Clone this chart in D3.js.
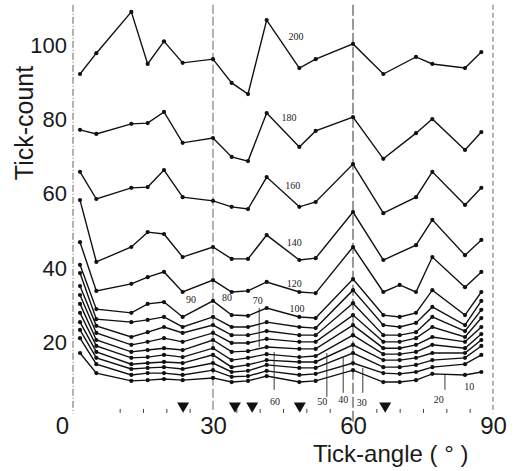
<!DOCTYPE html>
<html>
<head>
<meta charset="utf-8">
<script src="https://cdn.jsdelivr.net/npm/d3@7"></script>
<style>
  body { margin: 0; background: #fff; }
  text { font-family: "Liberation Sans", Arial, sans-serif; fill: #1a1a1a; }
  .lbl { font-family: "Liberation Serif", serif; font-size: 10px; fill: #222; }
</style>
</head>
<body>
<script>
// tick angles (degrees) where counts were taken
var angles = [1.5, 5, 12.5, 16, 19.5, 23.5, 30, 34, 37.5, 41.5, 48.5, 52, 60, 66.5, 70, 73.5, 77, 84, 87.5];

// one series per curve, value = tick count (null = no point)
var c200 = [92.2, 97.8, 108.9, 94.9, 101, 95.2, 96.2, 89.8, 86.8, 106.7, 93.8, 96.2, 100.3, 92.2, null, 96.8, 94.9, 93.8, 98.1];
var c180 = [77.2, 76.1, 78.8, 79.0, 82.0, 73.7, 75.0, 69.9, 68.8, 81.7, 72.6, 76.9, 80.6, 69.4, null, 76.3, 80.1, 71.8, 76.6];
var c160 = [65.9, 58.6, 61.6, 61.8, 66.4, 59.1, 58.1, 56.5, 55.9, 64.5, 56.5, 57.8, 68.0, 54.8, null, 59.1, 65.9, 57.0, 61.6];
var c140 = [58.3, 41.7, 45.7, 49.7, 49.2, 43.0, 45.7, 42.5, 42.5, 48.9, 42.2, 42.7, 55.1, 42.2, null, 46.2, 53.0, 43.5, 47.6];
var c120 = [47.0, 33.9, 35.8, 37.6, 39.0, 33.6, 36.8, 33.6, 33.9, 36.3, 33.6, 33.3, 45.7, 33.6, 35.5, 33.6, 43.0, 34.9, 39.0];
var c100 = [40.9, 29.0, 28.0, 30.4, 30.9, 26.9, 31.2, 27.4, 27.2, 29.3, 26.9, 26.6, 37.1, 27.4, 26.9, 28.0, 34.1, 27.4, 33.6];
var c90  = [38.7, 26.3, 25.5, 26.1, 26.9, 24.2, 26.9, 24.2, 24.2, 25.5, 24.2, 23.9, 34.1, 24.7, 24.2, 25.3, 29.6, 24.7, 31.2];
var c80  = [35.2, 24.5, 21.5, 22.8, 24.2, 22.6, 24.7, 22.0, 22.0, 23.1, 22.0, 22.0, 30.6, 22.0, 22.0, 22.8, 26.9, 23.1, 28.8];
var c70  = [32.8, 22.6, 19.4, 20.2, 21.2, 20.2, 22.6, 19.9, 19.9, 21.0, 20.2, 20.2, 27.4, 20.2, 20.2, 21.2, 24.2, 21.5, 26.6];
var c60  = [30.4, 20.7, 17.5, 18.0, 18.5, 18.0, 20.7, 17.5, 17.7, 18.8, 18.3, 18.3, 24.7, 18.5, 18.5, 19.4, 21.5, 20.2, 24.2];
var c50  = [28.0, 19.1, 15.9, 16.1, 16.7, 16.1, 18.5, 15.3, 15.9, 16.9, 16.1, 16.4, 22.0, 16.9, 16.9, 17.5, 19.4, 18.5, 22.3];
var c40  = [25.5, 17.5, 14.2, 14.5, 14.8, 14.5, 16.7, 13.4, 14.0, 15.3, 14.8, 14.8, 19.4, 15.3, 15.3, 15.9, 17.2, 17.2, 20.7];
var c30  = [23.4, 15.9, 12.9, 13.2, 13.4, 12.9, 14.5, 12.1, 12.4, 14.0, 13.2, 13.2, 17.2, 13.4, 13.4, 14.0, 15.3, 15.9, 19.1];
var c20  = [21.2, 14.2, 11.3, 11.8, 11.8, 11.3, 12.6, 10.8, 11.0, 12.4, 11.3, 11.6, 14.5, 11.8, 11.6, 12.1, 13.4, 14.2, 16.7];
var c10  = [17.2, 11.8, 9.7, 9.9, 10.2, 9.9, 10.5, 9.4, 9.7, 11.0, 9.4, 9.7, 12.6, 9.4, 9.4, 9.9, 11.6, 11.3, 12.1];

var seriesList = [c200, c180, c160, c140, c120, c100, c90, c80, c70, c60, c50, c40, c30, c20, c10];
var curveNames = ["200", "180", "160", "140", "120", "100", "90", "80", "70", "60", "50", "40", "30", "20", "10"];

// where each curve's name is written (angle, count)
var labelAngle = [47.8, 46.3, 47.1, 47.4, 47.4, 48.0, 25.3, 33.0, 39.6, 43.3, 53.4, 57.9, 61.9, 78.4, 84.9];
var labelCount = [102.2, 80.4, 62.1, 46.8, 36.0, 29.3, 31.5, 32.0, 31.2, 4.3, 4.3, 4.6, 4.0, 4.8, 8.1];

// leader lines from a few names up to their curve: [angle, from, to]
var leaders = [[39.9, 29.3, 18.8], [43.1, 17.5, 7.3], [54.4, 17.2, 5.4], [57.9, 16.1, 6.5], [62.1, 13.2, 6.5], [79.7, 11.3, 7.3]];

// marked angles (filled triangles) and small ticks on the angle axis
var markedAngles = [23.6, 34.7, 38.4, 48.6, 66.9];
var minorTicks = [10, 15, 20, 25, 35, 40, 45, 50, 55, 65, 70, 75, 80, 85];
var xTicks = [0, 30, 60, 90];
var yTicks = [20, 40, 60, 80, 100];

var width = 514, height = 471;

var svg = d3.select("body").append("svg")
  .attr("width", width)
  .attr("height", height);

var x = d3.scaleLinear().domain([0, 90]).range([73, 493]);
var y = d3.scaleLinear().domain([0, 100]).range([417, 45]);

// vertical dashed guide lines at 0, 30, 60, 90
var dashes = {0: "7,2,1,2", 30: "9,3", 60: "11,3", 90: "5,3"};
svg.selectAll(".vline")
  .data(xTicks)
  .enter()
  .append("line")
  .attr("class", "vline")
  .attr("x1", function(d) { return x(d); })
  .attr("x2", function(d) { return x(d); })
  .attr("y1", y(110.8))
  .attr("y2", function(d) { return d == 60 ? y(-2) : y(1); })
  .attr("stroke", function(d) { return d == 60 ? "#333" : "#666"; })
  .attr("stroke-width", 1)
  .attr("stroke-dasharray", function(d) { return dashes[d]; });

// y axis labels
var yAxis = svg.append("g")
  .attr("transform", "translate(" + x(0) + ",0)")
  .call(d3.axisLeft(y).tickValues(yTicks).tickSize(0).tickPadding(6));
yAxis.select(".domain").remove();
yAxis.selectAll("text")
  .style("font-size", "22px")
  .style("font-family", "Liberation Sans, Arial, sans-serif")
  .attr("fill", "#1a1a1a");

// x axis labels
var xAxis = svg.append("g")
  .attr("transform", "translate(0," + y(0) + ")")
  .call(d3.axisBottom(x).tickValues(xTicks).tickSize(0).tickPadding(0));
xAxis.select(".domain").remove();
xAxis.selectAll("text")
  .style("font-size", "24px")
  .style("font-family", "Liberation Sans, Arial, sans-serif")
  .attr("fill", "#1a1a1a")
  .attr("x", function(d) { return d == 0 ? -11 : 0; });

// small ticks along the bottom
var minor = svg.append("g")
  .attr("transform", "translate(0," + y(1.1) + ")")
  .call(d3.axisBottom(x).tickValues(minorTicks).tickSize(-4).tickFormat(""));
minor.select(".domain").remove();
minor.selectAll("line").attr("stroke", "#444");

// triangles
svg.selectAll(".tri")
  .data(markedAngles)
  .enter()
  .append("path")
  .attr("class", "tri")
  .attr("d", d3.symbol().type(d3.symbolTriangle).size(62))
  .attr("transform", function(d) { return "translate(" + x(d) + "," + y(3.0) + ") rotate(180)"; })
  .attr("fill", "#111");

// curves, joined straight across any missing point
var line = d3.line()
  .x(function(p) { return x(p.a); })
  .y(function(p) { return y(p.v); });

seriesList.forEach(function(s) {
  var pts = s.map(function(v, i) { return {a: angles[i], v: v}; })
    .filter(function(p) { return p.v != null; });

  svg.append("path")
    .datum(pts)
    .attr("d", line)
    .attr("fill", "none")
    .attr("stroke", "#111")
    .attr("stroke-width", 1.4);

  svg.append("g").selectAll("circle")
    .data(pts)
    .enter()
    .append("circle")
    .attr("cx", function(p) { return x(p.a); })
    .attr("cy", function(p) { return y(p.v); })
    .attr("r", 2.1)
    .attr("fill", "#111");
});

// leader lines
svg.selectAll(".leader")
  .data(leaders)
  .enter()
  .append("line")
  .attr("x1", function(d) { return x(d[0]); })
  .attr("x2", function(d) { return x(d[0]); })
  .attr("y1", function(d) { return y(d[1]); })
  .attr("y2", function(d) { return y(d[2]); })
  .attr("stroke", "#222")
  .attr("stroke-width", 0.9);

// curve names
svg.selectAll(".lbl")
  .data(curveNames)
  .enter()
  .append("text")
  .attr("class", "lbl")
  .attr("x", function(d, i) { return x(labelAngle[i]); })
  .attr("y", function(d, i) { return y(labelCount[i]); })
  .attr("text-anchor", "middle")
  .attr("dy", "0.35em")
  .text(function(d) { return d; });

// axis titles
svg.append("text")
  .attr("x", 313)
  .attr("y", 462)
  .style("font-size", "24px")
  .text("Tick-angle (  °  )");

svg.append("text")
  .attr("transform", "translate(33,123) rotate(-90)")
  .attr("text-anchor", "middle")
  .style("font-size", "25px")
  .text("Tick-count");
</script>
</body>
</html>
